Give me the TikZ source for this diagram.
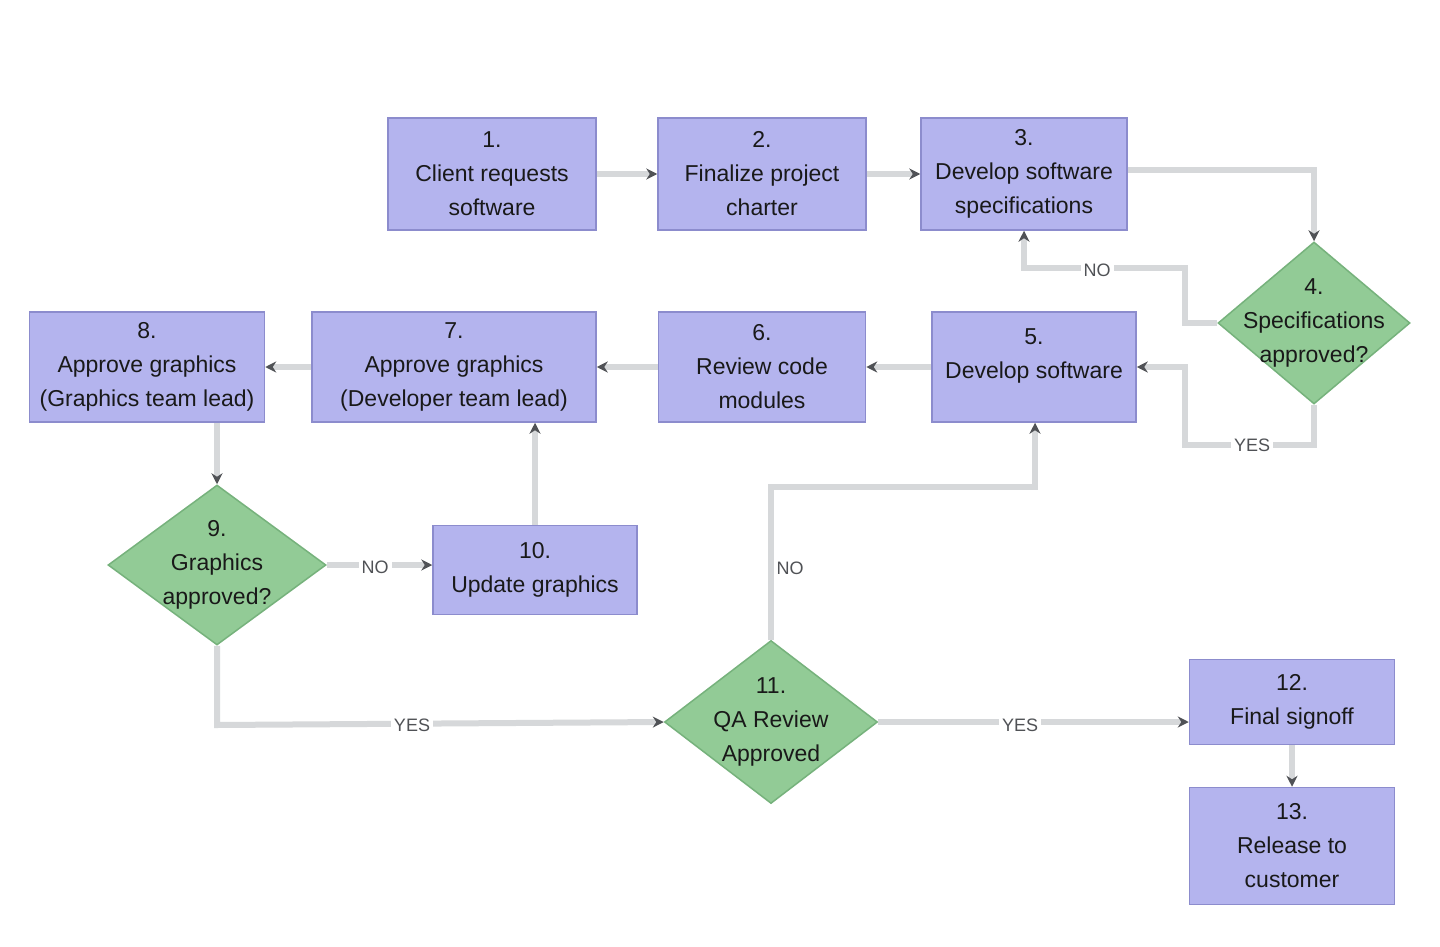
\documentclass[tikz,border=0pt]{standalone}
\usepackage{fontspec}
\setmainfont{Liberation Sans}
\usetikzlibrary{shapes.geometric,arrows.meta,calc}
\definecolor{boxfill}{RGB}{180,180,238}
\definecolor{boxdraw}{RGB}{140,140,205}
\definecolor{diafill}{RGB}{146,203,150}
\definecolor{diadraw}{RGB}{118,178,124}
\definecolor{linecol}{RGB}{214,216,218}
\definecolor{tipcol}{RGB}{80,82,86}
\definecolor{txtcol}{RGB}{25,25,25}
\tikzset{
  box/.style={draw=boxdraw, fill=boxfill, line width=1.5pt, align=center, inner sep=0pt,
    font=\fontsize{23}{34}\selectfont, text=txtcol},
  dia/.style={diamond, draw=diadraw, fill=diafill, line width=1.5pt, inner sep=0pt, aspect=1.2},
  diatxt/.style={align=center, font=\fontsize{23}{34}\selectfont, text=txtcol, inner sep=0pt},
  conn/.style={draw=linecol, line width=6pt, -{Stealth[length=11pt,width=11pt,color=tipcol]}},
  lbl/.style={fill=white, font=\fontsize{18}{20}\selectfont, text=tipcol, inner sep=3pt},
}
\begin{document}
\begin{tikzpicture}[x=1pt,y=-1pt]
\fill[white] (0,0) rectangle (1440,947);
\useasboundingbox (0,0) rectangle (1440,947);
% process boxes
\node[box, minimum width=208pt, minimum height=112pt] (n1) at (492,174) {1.\\Client requests\\software};
\node[box, minimum width=208pt, minimum height=112pt] (n2) at (762,174) {2.\\Finalize project\\charter};
\node[box, minimum width=206pt, minimum height=112pt] (n3) at (1024,174) {3.\\Develop software\\specifications};
\node[dia, minimum width=192pt, minimum height=162pt] (d4) at (1314,323) {};
\node[diatxt] (t4) at (d4) {4.\\Specifications\\approved?};
\node[box, minimum width=204pt, minimum height=110pt] (n5) at (1034,367) {5.\\Develop software\\[-8pt]};
\node[box, minimum width=207pt, minimum height=110pt] (n6) at (762,367) {6.\\Review code\\modules};
\node[box, minimum width=284pt, minimum height=110pt] (n7) at (454,367) {7.\\Approve graphics\\(Developer team lead)};
\node[box, minimum width=235pt, minimum height=110pt] (n8) at (147,367) {8.\\Approve graphics\\(Graphics team lead)};
\node[dia, minimum width=218pt, minimum height=160pt] (d9) at (217,565) {};
\node[diatxt] (t9) at (d9) {9.\\Graphics\\approved?};
\node[box, minimum width=204pt, minimum height=89pt] (n10) at (535,570) {10.\\Update graphics};
\node[dia, minimum width=213pt, minimum height=163pt] (d11) at (771,722) {};
\node[diatxt] (t11) at (d11) {11.\\QA Review\\Approved};
\node[box, minimum width=205pt, minimum height=85pt] (n12) at (1292,702) {12.\\Final signoff};
\node[box, minimum width=205pt, minimum height=117pt] (n13) at (1292,846) {13.\\Release to\\customer};
% helper coordinates
\coordinate (a1) at (1185,323);
\coordinate (a2) at (1185,268);
\coordinate (b1) at (1185,445);
\coordinate (c1) at (217,725);
\coordinate (e1) at (771,487);
\coordinate (e2) at (1035,487);
% connectors
\draw[conn] (n1.east) -- (n2.west);
\draw[conn] (n2.east) -- (n3.west);
\draw[conn] ($(n3.east)+(0,-4)$) -| (d4.north);
\draw[conn] (d4.west) -- (a1) -- (a2) -| (n3.south);
\node[lbl] at (1097,270) {NO};
\draw[conn] (d4.south) |- (b1) |- (n5.east);
\node[lbl] at (1252,445) {YES};
\draw[conn] (n5.west) -- (n6.east);
\draw[conn] (n6.west) -- (n7.east);
\draw[conn] (n7.west) -- (n8.east);
\draw[conn] (d9.north |- n8.south) -- (d9.north);
\draw[conn] (d9.east) -- (n10.west |- d9.east);
\node[lbl] at (375,567) {NO};
\draw[conn] (n10.north) -- (n10.north |- n7.south);
\draw[conn] (d9.south) -- (c1) -- (d11.west);
\node[lbl] at (412,725) {YES};
\draw[conn] (d11.north) -- (e1) -- (e2) -- (e2 |- n5.south);
\node[lbl] at (790,568) {NO};
\draw[conn] (d11.east) -- (n12.west |- d11.east);
\node[lbl] at (1020,725) {YES};
\draw[conn] (n12.south) -- (n13.north);
\end{tikzpicture}
\end{document}
